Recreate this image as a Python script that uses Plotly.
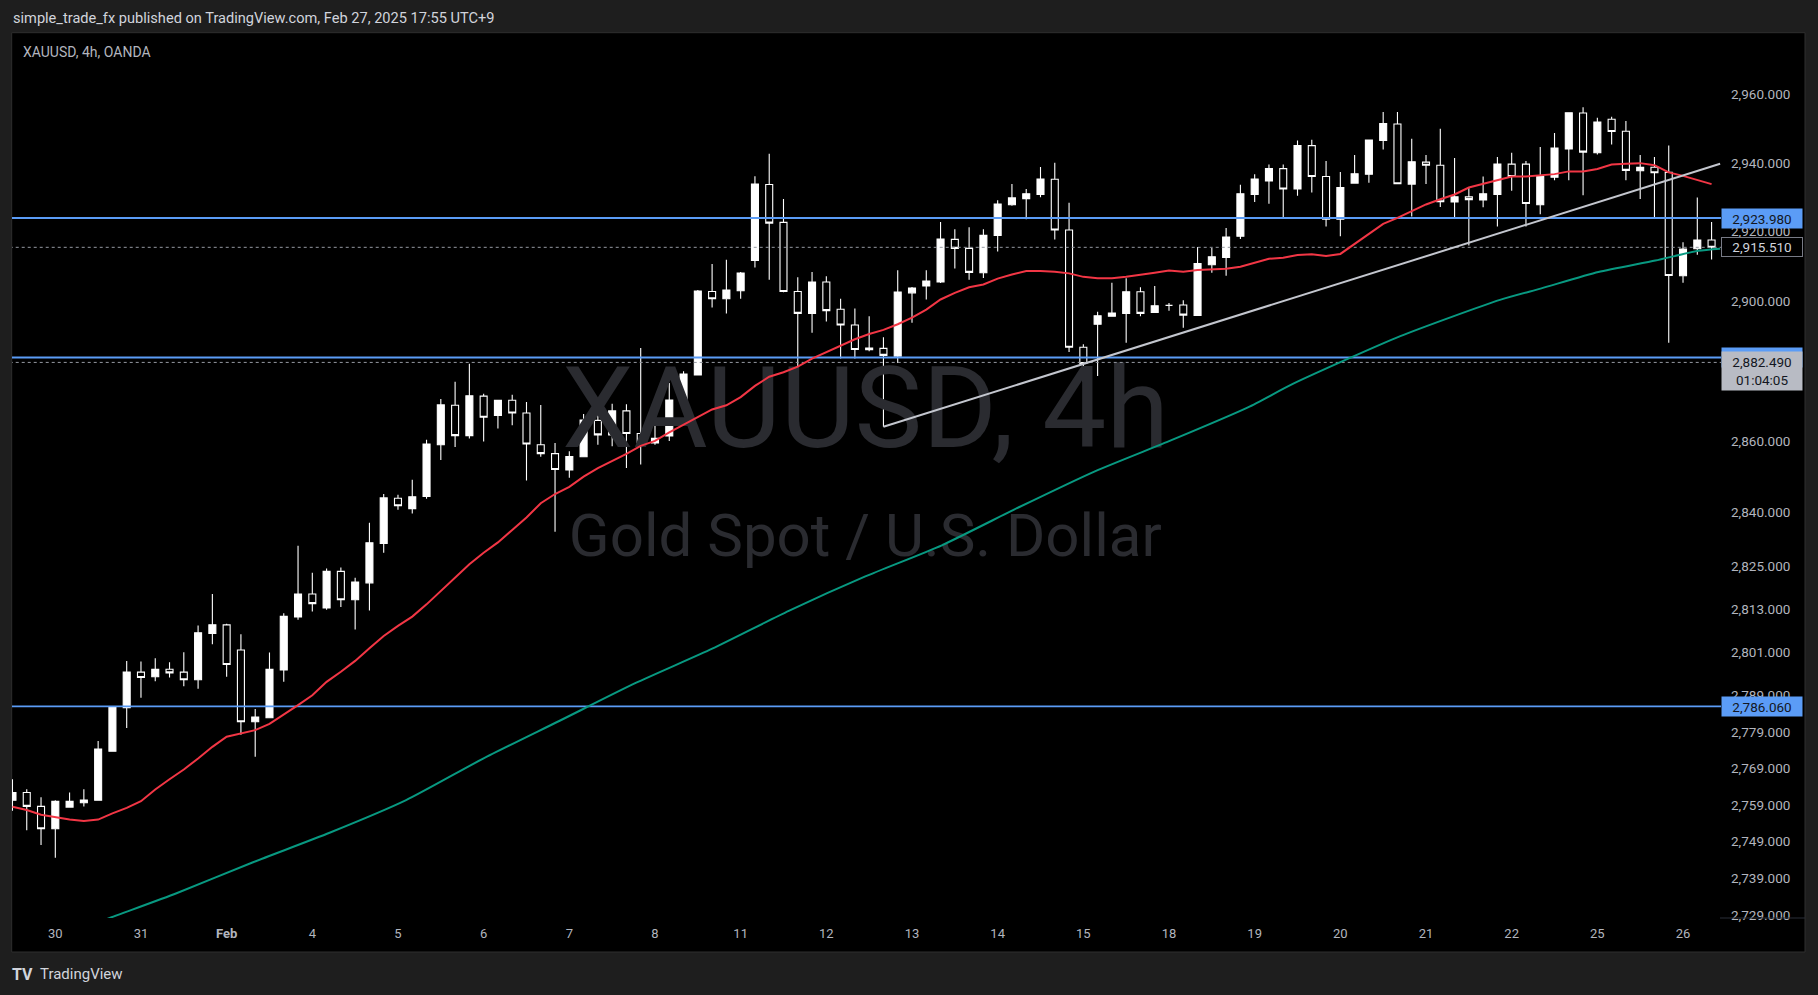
import math
import plotly.graph_objects as go

# ---------------- data ----------------
day_labels = ["30", "31", "Feb", "4", "5", "6", "7", "8", "11", "12",
              "13", "14", "15", "18", "19", "20", "21", "22", "25", "26"]

opens = [2760.3, 2762.4, 2758.6, 2752.5, 2758.4, 2759.6, 2760.3, 2773.7, 2785.7, 2795.5,
         2794.2, 2796.3, 2795.5, 2793.4, 2806.2, 2808.6, 2801.6, 2781.8, 2782.9, 2796.1,
         2810.8, 2817.2, 2813.3, 2823.5, 2815.6, 2820.3, 2831.3, 2844.0, 2841.1, 2844.5,
         2859.1, 2870.3, 2861.7, 2872.9, 2867.4, 2871.7, 2868.1, 2859.1, 2856.6, 2852.0,
         2855.7, 2866.0, 2861.9, 2868.7, 2862.3, 2859.6, 2861.6, 2871.6, 2878.9, 2902.8,
         2900.7, 2903.0, 2911.7, 2933.7, 2922.7, 2902.8, 2896.5, 2905.5, 2897.7, 2893.2,
         2886.1, 2886.5, 2884.3, 2902.4, 2904.4, 2905.5, 2917.8, 2915.2, 2908.2, 2918.9,
         2927.8, 2929.6, 2930.8, 2935.2, 2920.5, 2886.8, 2893.4, 2895.7, 2896.5, 2902.7,
         2896.8, 2898.8, 2898.9, 2895.9, 2910.5, 2912.6, 2918.7, 2930.8, 2934.7, 2938.3,
         2932.4, 2945.0, 2936.0, 2923.6, 2934.1, 2936.7, 2946.5, 2951.3, 2933.8, 2940.2,
         2939.3, 2928.6, 2930.1, 2929.2, 2930.8, 2939.6, 2939.6, 2927.8, 2935.8, 2944.0,
         2954.5, 2942.9, 2952.7, 2949.2, 2937.7, 2938.7, 2937.2, 2907.3, 2915.1, 2917.6]

highs = [2766.0, 2763.3, 2761.1, 2760.3, 2762.4, 2763.3, 2776.5, 2785.8, 2798.6, 2798.4,
         2799.3, 2798.2, 2801.0, 2808.4, 2817.2, 2808.9, 2806.0, 2785.3, 2800.9, 2811.8,
         2830.7, 2823.1, 2824.3, 2824.6, 2821.7, 2837.1, 2845.2, 2845.0, 2849.2, 2860.5,
         2872.1, 2877.0, 2882.1, 2873.6, 2871.8, 2873.3, 2871.2, 2870.4, 2859.6, 2857.3,
         2867.8, 2870.4, 2870.7, 2870.6, 2886.6, 2864.8, 2876.6, 2880.0, 2903.2, 2910.7,
         2911.9, 2908.4, 2936.1, 2942.6, 2929.5, 2906.9, 2908.4, 2907.2, 2900.7, 2897.9,
         2895.7, 2889.7, 2908.9, 2904.1, 2908.9, 2922.8, 2920.7, 2921.3, 2920.7, 2929.1,
         2933.8, 2932.4, 2938.8, 2940.0, 2928.4, 2887.7, 2897.0, 2905.3, 2906.6, 2904.0,
         2904.4, 2899.5, 2900.3, 2915.6, 2915.3, 2921.1, 2933.6, 2936.7, 2939.5, 2939.5,
         2946.5, 2946.7, 2940.5, 2937.3, 2942.3, 2946.6, 2954.8, 2954.8, 2947.0, 2942.3,
         2949.9, 2941.4, 2932.8, 2936.0, 2941.7, 2942.9, 2940.5, 2944.6, 2948.7, 2954.6,
         2956.2, 2953.1, 2953.4, 2952.2, 2942.3, 2941.7, 2945.0, 2917.0, 2929.9, 2922.8]

lows = [2757.4, 2752.1, 2748.1, 2744.6, 2758.2, 2758.6, 2760.2, 2773.6, 2780.1, 2788.4,
        2793.0, 2794.0, 2791.6, 2790.9, 2803.2, 2794.2, 2778.2, 2772.2, 2782.9, 2792.8,
        2810.0, 2812.3, 2812.8, 2813.6, 2807.3, 2812.6, 2828.7, 2840.8, 2839.7, 2843.9,
        2854.8, 2858.5, 2860.9, 2860.0, 2863.7, 2864.6, 2849.0, 2855.7, 2834.6, 2849.8,
        2855.6, 2859.1, 2858.7, 2852.5, 2853.5, 2859.1, 2860.2, 2871.3, 2878.9, 2898.2,
        2896.5, 2900.7, 2909.7, 2906.2, 2902.6, 2881.5, 2891.0, 2894.2, 2883.6, 2883.6,
        2885.7, 2864.2, 2882.3, 2893.8, 2900.5, 2905.2, 2909.4, 2906.2, 2906.7, 2914.3,
        2927.5, 2923.6, 2930.0, 2917.8, 2885.5, 2876.9, 2878.6, 2895.7, 2888.1, 2895.7,
        2896.8, 2897.3, 2892.4, 2895.9, 2908.2, 2907.3, 2917.9, 2928.6, 2928.1, 2924.3,
        2930.4, 2931.4, 2921.5, 2918.7, 2934.1, 2934.2, 2943.9, 2933.9, 2924.4, 2933.8,
        2927.2, 2924.3, 2916.0, 2927.1, 2921.5, 2931.9, 2921.5, 2925.1, 2934.9, 2934.9,
        2930.6, 2942.4, 2945.3, 2934.9, 2929.5, 2924.0, 2888.1, 2905.3, 2913.4, 2912.0]

closes = [2762.4, 2758.6, 2752.5, 2760.0, 2760.0, 2760.3, 2774.3, 2785.7, 2795.5, 2794.0,
          2796.3, 2795.3, 2793.4, 2806.4, 2808.6, 2797.6, 2781.8, 2783.1, 2796.3, 2811.0,
          2817.2, 2814.5, 2823.5, 2815.6, 2820.5, 2831.5, 2844.1, 2841.9, 2844.4, 2859.3,
          2870.4, 2861.7, 2873.0, 2866.9, 2871.7, 2868.1, 2859.3, 2856.6, 2852.1, 2855.8,
          2866.1, 2861.9, 2868.7, 2862.3, 2859.7, 2860.9, 2871.8, 2879.2, 2902.9, 2900.7,
          2903.2, 2908.1, 2933.8, 2922.5, 2902.8, 2896.5, 2905.5, 2897.3, 2893.2, 2886.2,
          2886.6, 2884.5, 2902.6, 2903.8, 2905.8, 2917.9, 2915.2, 2908.3, 2919.0, 2928.0,
          2929.8, 2931.0, 2935.3, 2920.5, 2886.8, 2882.2, 2895.8, 2896.6, 2902.7, 2896.5,
          2898.7, 2898.8, 2896.0, 2910.8, 2912.8, 2918.5, 2931.0, 2935.3, 2938.3, 2932.4,
          2945.0, 2936.0, 2923.6, 2932.8, 2936.8, 2946.6, 2951.4, 2933.9, 2940.3, 2939.3,
          2928.7, 2930.1, 2929.3, 2931.0, 2939.6, 2936.0, 2928.2, 2936.0, 2944.3, 2954.6,
          2943.1, 2951.9, 2949.1, 2937.8, 2938.7, 2937.1, 2907.4, 2915.0, 2917.6, 2915.51]

ma_red = [2758.5, 2757.6, 2756.3, 2755.6, 2755.0, 2754.6, 2755.0, 2756.7, 2758.2, 2760.0,
          2763.2, 2766.0, 2768.7, 2771.7, 2774.9, 2777.7, 2778.7, 2779.5, 2781.2, 2783.7,
          2786.4, 2789.1, 2792.8, 2795.6, 2798.6, 2802.1, 2805.5, 2808.3, 2810.9, 2814.3,
          2818.0, 2821.8, 2825.5, 2828.7, 2831.6, 2835.1, 2838.6, 2842.6, 2845.2, 2847.2,
          2850.1, 2852.5, 2854.5, 2856.5, 2858.8, 2860.2, 2862.6, 2864.8, 2867.1, 2869.1,
          2870.3, 2872.6, 2875.8, 2878.4, 2879.7, 2881.3, 2883.6, 2885.4, 2887.3, 2889.1,
          2890.6, 2891.8, 2893.4, 2895.3, 2897.6, 2900.5, 2902.4, 2904.0, 2904.8, 2906.5,
          2907.7, 2908.7, 2908.7, 2908.5, 2908.0, 2907.0, 2906.6, 2906.6, 2907.0, 2907.5,
          2908.2, 2908.8, 2908.5, 2909.0, 2909.2, 2909.3, 2909.9, 2911.1, 2912.2, 2912.5,
          2913.3, 2913.5, 2913.0, 2913.6, 2916.5, 2919.6, 2922.3, 2924.0, 2925.9, 2927.9,
          2929.4, 2930.8, 2932.8, 2933.8, 2934.9, 2936.0, 2936.0, 2936.4, 2936.7, 2937.5,
          2937.5, 2938.2, 2939.5, 2939.7, 2939.9, 2939.3, 2937.2, 2936.2, 2935.0, 2933.8]

ma_teal_x = [6.0, 6.94, 11.49, 16.85, 22.21, 27.57, 32.93, 38.29, 43.65, 49.01, 54.37,
             59.73, 65.09, 70.45, 75.81, 81.17, 86.53, 89.74, 97.2, 104.18, 107.08,
             111.07, 115.06, 118.07, 119.6]
ma_teal = [2727.1, 2728.5, 2735.0, 2743.4, 2751.4, 2760.3, 2771.6, 2782.0, 2792.5, 2802.0,
           2812.5, 2822.1, 2830.8, 2841.4, 2851.6, 2860.4, 2869.7, 2876.5, 2890.0, 2900.4,
           2903.7, 2908.4, 2911.7, 2914.5, 2915.1]

trend_x = [61, 119.6]
trend_y = [2864.2, 2939.7]

blue_levels = [2923.98, 2883.9, 2786.06]
dotted_levels = [2915.51, 2882.49]
countdown = "01:04:05"

y_ticks = [2729, 2739, 2749, 2759, 2769, 2779, 2789, 2801, 2813, 2825,
           2840, 2860, 2900, 2920, 2940, 2960]

# ---------------- layout constants ----------------
W, H = 1818, 995
ML, MR, MT, MB = 12, 97, 33, 77
PW = W - ML - MR
PH = H - MT - MB
FONT = "Roboto"
BLUE = "#5b9cf6"
TICK_FS = 13.5


def px(x):
    return (x - ML) / PW


def py(y):
    return (H - MB - y) / PH


idx = list(range(len(opens)))
tick_idx = [3 + 6 * k for k in range(len(day_labels))]
tick_txt = ["<b>%s</b>" % t if not t.isdigit() else t for t in day_labels]

fig = go.Figure()

# watermark (drawn first => behind candles)
fig.add_trace(go.Scatter(x=[59.74], y=[2866.4], mode="text", text=["XAUUSD, 4h"],
                         textfont=dict(family=FONT, size=114, color="#2a2b30"),
                         hoverinfo="skip", showlegend=False, cliponaxis=False))
fig.add_trace(go.Scatter(x=[59.73], y=[2831.9], mode="text", text=["Gold Spot / U.S. Dollar"],
                         textfont=dict(family=FONT, size=60, color="#2a2b30"),
                         hoverinfo="skip", showlegend=False, cliponaxis=False))

fig.add_trace(go.Candlestick(
    x=idx, open=opens, high=highs, low=lows, close=closes,
    increasing=dict(line=dict(color="#ffffff", width=1.1), fillcolor="#ffffff"),
    decreasing=dict(line=dict(color="#ffffff", width=1.1), fillcolor="#000000"),
    whiskerwidth=0, hoverinfo="skip", showlegend=False))

x_lo, x_hi = -0.033, 119.66
for lv in blue_levels:
    fig.add_trace(go.Scatter(x=[x_lo - 1, x_hi + 1], y=[lv, lv], mode="lines",
                             line=dict(color=BLUE, width=1.8), hoverinfo="skip", showlegend=False))
for lv in dotted_levels:
    fig.add_trace(go.Scatter(x=[x_lo - 1, x_hi + 1], y=[lv, lv], mode="lines",
                             line=dict(color="#9598a1", width=1, dash="dot"),
                             hoverinfo="skip", showlegend=False))

fig.add_trace(go.Scatter(x=ma_teal_x, y=ma_teal, mode="lines",
                         line=dict(color="#089981", width=2, shape="spline", smoothing=0.6),
                         hoverinfo="skip", showlegend=False))
fig.add_trace(go.Scatter(x=idx, y=ma_red, mode="lines",
                         line=dict(color="#f23645", width=2), hoverinfo="skip", showlegend=False))
fig.add_trace(go.Scatter(x=trend_x, y=trend_y, mode="lines",
                         line=dict(color="#c3c6ce", width=2), hoverinfo="skip", showlegend=False))

shapes = [
    dict(type="rect", xref="paper", yref="paper", x0=px(11.7), x1=px(1805), y0=py(952), y1=py(32.7),
         fillcolor="#000000", line=dict(color="#2e2e2e", width=1), layer="below"),
    dict(type="line", xref="paper", yref="paper", x0=px(1720), x1=px(1805), y0=py(918), y1=py(918),
         line=dict(color="#2a2e39", width=1)),
]

ann = []
# header
ann.append(dict(xref="paper", yref="paper", x=px(10.5), y=py(18), xanchor="left", yanchor="middle",
                text="simple_trade_fx published on TradingView.com, Feb 27, 2025 17:55 UTC+9",
                font=dict(family=FONT, size=14.6, color="#d1d4dc"), showarrow=False))
ann.append(dict(xref="paper", yref="paper", x=px(20.5), y=py(51.5), xanchor="left", yanchor="middle",
                text="XAUUSD, 4h, OANDA", font=dict(family=FONT, size=14, color="#b2b5be"),
                showarrow=False))
# footer logo
ann.append(dict(xref="paper", yref="paper", x=px(10), y=py(974), xanchor="left", yanchor="middle",
                text="<b>TV</b>", font=dict(family=FONT, size=16, color="#d1d4dc"), showarrow=False))
ann.append(dict(xref="paper", yref="paper", x=px(38), y=py(974), xanchor="left", yanchor="middle",
                text="TradingView", font=dict(family=FONT, size=15, color="#d1d4dc"), showarrow=False))


def price_label(val, text, bg, fg, border=None, h=15, yanchor="middle", yshift=0):
    d = dict(xref="paper", yref="y", x=1.0, y=math.log10(val), xanchor="left", yanchor=yanchor,
             text=text, bgcolor=bg, font=dict(family=FONT, size=TICK_FS, color=fg), width=76,
             height=h, borderpad=2, align="center", valign="middle", showarrow=False, yshift=yshift)
    if border:
        d["bordercolor"] = border
        d["borderwidth"] = 1
    return d


ann.append(price_label(blue_levels[0], f"{blue_levels[0]:,.3f}", BLUE, "#131722"))
ann.append(price_label(blue_levels[2], f"{blue_levels[2]:,.3f}", BLUE, "#131722"))
# label of the middle blue line is hidden behind the countdown label (only its top edge shows)
ann.append(price_label(blue_levels[1], " ", BLUE, "#131722"))
ann.append(price_label(dotted_levels[0], f"{dotted_levels[0]:,.3f}", "#000000", "#d1d4dc",
                       border="#787b86", h=14))
ann.append(price_label(dotted_levels[1], f"{dotted_levels[1]:,.3f}<br>{countdown}", "#b8bbc4",
                       "#131722", h=34, yanchor="top", yshift=11.5))

fig.update_layout(
    width=W, height=H, margin=dict(l=ML, r=MR, t=MT, b=MB),
    paper_bgcolor="#1e1e1e", plot_bgcolor="#000000", showlegend=False,
    font=dict(family=FONT),
    xaxis=dict(range=[x_lo, x_hi], tickmode="array", tickvals=tick_idx, ticktext=tick_txt,
               showgrid=False, zeroline=False, showline=False, ticks="",
               tickfont=dict(family=FONT, size=13, color="#b2b5be"),
               rangeslider=dict(visible=False), ticklabelstandoff=6),
    yaxis=dict(type="log", range=[math.log10(2728.3), math.log10(2978.0)], side="right",
               tickmode="array", tickvals=y_ticks, ticktext=[f"{v:,.3f}" for v in y_ticks],
               showgrid=False, zeroline=False, showline=False, ticks="",
               tickfont=dict(family=FONT, size=TICK_FS, color="#b2b5be"), ticklabelstandoff=9),
    shapes=shapes, annotations=ann,
)

fig.write_html("out.html",
               config={"displayModeBar": False},
               post_script="document.body.style.margin='0';"
                           "document.body.style.background='#1e1e1e';"
                           "document.body.style.overflow='hidden';")
